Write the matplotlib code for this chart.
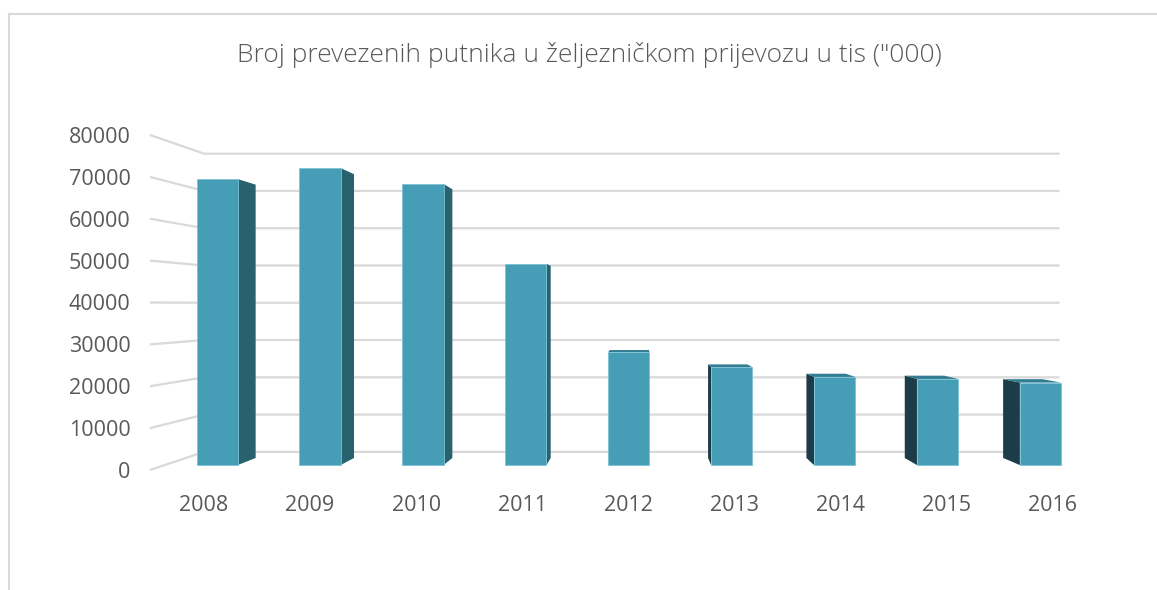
import matplotlib.pyplot as plt
from matplotlib.patches import Polygon
from matplotlib.lines import Line2D

# data
years = ['2008', '2009', '2010', '2011', '2012', '2013', '2014', '2015', '2016']
passengers = [70400, 73100, 69200, 49500, 27800, 24100, 21700, 21200, 20300]
y_ticks = [0, 10000, 20000, 30000, 40000, 50000, 60000, 70000, 80000]
title = 'Broj prevezenih putnika u željezničkom prijevozu u tis ("000)'

# fake 3d: one-point perspective, front plane is the plain data space
VP = (4.13, 39400)          # vanishing point (category units, value units)
S_FRONT, S_BACK = 0.97, 0.927   # depth scale of bar front / back faces
S_WALL = 0.89                 # depth scale of back wall
X_LEFT, X_RIGHT = -0.51, 8.55  # side wall and back wall extent
HALF_W = 0.2

FRONT = '#459db6'
RIGHT = '#29626f'
LEFT = '#1c3c47'
TOP = '#327d92'
GRID = '#d9d9d9'
TEXT = '#595959'


def proj(x, v, s):
    return (VP[0] + (x - VP[0]) * s, VP[1] + (v - VP[1]) * s)


plt.rcParams['font.family'] = ['Open Sans', 'DejaVu Sans']

fig = plt.figure(figsize=(11.57, 5.90), dpi=100)
ax = fig.add_axes([0.1213, 0.18915, 0.8528, 0.5963])
ax.set_xlim(-0.6, 8.7)
ax.set_ylim(-2000, 82000)

# gridlines: side wall + back wall
for v in y_ticks:
    pts = [proj(X_LEFT, v, 1.0), proj(X_LEFT, v, S_WALL), proj(X_RIGHT, v, S_WALL)]
    ax.add_line(Line2D([p[0] for p in pts], [p[1] for p in pts],
                       color=GRID, lw=1.6, zorder=1, solid_capstyle='butt'))

# bars
for i, v in enumerate(passengers):
    x0, x1 = i - HALF_W, i + HALF_W
    if x1 < VP[0]:
        side = [proj(x1, 0, S_FRONT), proj(x1, v, S_FRONT), proj(x1, v, S_BACK), proj(x1, 0, S_BACK)]
        ax.add_patch(Polygon(side, closed=True, fc=RIGHT, ec='none', zorder=2))
    if x0 > VP[0]:
        side = [proj(x0, 0, S_FRONT), proj(x0, v, S_FRONT), proj(x0, v, S_BACK), proj(x0, 0, S_BACK)]
        ax.add_patch(Polygon(side, closed=True, fc=LEFT, ec='none', zorder=2))
    if v < VP[1]:
        top = [proj(x0, v, S_FRONT), proj(x1, v, S_FRONT), proj(x1, v, S_BACK), proj(x0, v, S_BACK)]
        ax.add_patch(Polygon(top, closed=True, fc=TOP, ec='none', zorder=2))
    front = [proj(x0, 0, S_FRONT), proj(x1, 0, S_FRONT), proj(x1, v, S_FRONT), proj(x0, v, S_FRONT)]
    ax.add_patch(Polygon(front, closed=True, fc=FRONT, ec='#7cc3d6', lw=0.6, zorder=3))

ax.set_yticks(y_ticks)
ax.set_yticklabels([str(t) for t in y_ticks])
ax.set_xticks(range(len(years)))
ax.set_xticklabels(years)
ax.tick_params(axis='y', length=0, pad=7, labelsize=15.5, labelcolor=TEXT)
ax.tick_params(axis='x', length=0, pad=12, labelsize=15.5, labelcolor=TEXT)
for sp in ax.spines.values():
    sp.set_visible(False)
ax.set_facecolor('none')

fig.text(589 / 1157, 1 - 55 / 590, title, ha='center', va='center',
         fontsize=19, color=TEXT, fontweight='light')

# chart area border
fig.add_artist(Line2D([9 / 1157, 9 / 1157], [0, 1 - 14 / 590], color=GRID, lw=1.5))
fig.add_artist(Line2D([9 / 1157, 1], [1 - 14 / 590, 1 - 14 / 590], color=GRID, lw=1.5))

fig.savefig('out.png', dpi=100)
